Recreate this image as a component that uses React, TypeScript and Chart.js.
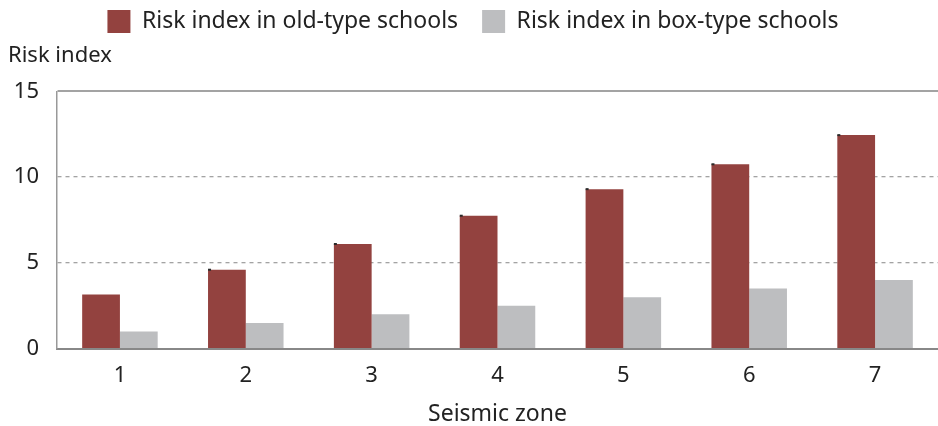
import React, { useEffect, useRef } from 'react';
import { Chart, registerables } from 'chart.js';
Chart.register(...registerables);

const zones = ['1', '2', '3', '4', '5', '6', '7'];
const oldType = [3.15, 4.6, 6.1, 7.75, 9.3, 10.75, 12.45];
const boxType = [1.0, 1.5, 2.0, 2.5, 3.0, 3.5, 4.0];
const seriesNames = ['Risk index in old-type schools', 'Risk index in box-type schools'];
const yMin = 0;
const yMax = 15;
const yStep = 5;
const yTitle = 'Risk index';
const xTitle = 'Seismic zone';

const FONT = '"Noto Sans", Lato, sans-serif';

// tiny dark tick marks visible at the top-left corner of the old-type bars (zones 2-7)
const cornerMarks = {
  id: 'cornerMarks',
  afterDatasetsDraw(chart: any) {
    const meta = chart.getDatasetMeta(0);
    const ctx = chart.ctx;
    ctx.save();
    ctx.fillStyle = '#2a2a2a';
    meta.data.forEach((bar: any, i: number) => {
      if (i === 0) return;
      const left = bar.x - bar.width / 2;
      ctx.fillRect(left, bar.y - 1, 3, 2);
    });
    ctx.restore();
  },
};

export default function App() {
  const ref = useRef<HTMLCanvasElement>(null);
  useEffect(() => {
    document.body.style.margin = '0';
    const canvas = ref.current!;
    const chart = new Chart(canvas, {
      type: 'bar',
      data: {
        labels: zones,
        datasets: [
          { label: seriesNames[0], data: oldType, backgroundColor: '#93423F', barPercentage: 1, categoryPercentage: 0.6 },
          { label: seriesNames[1], data: boxType, backgroundColor: '#BDBEC0', barPercentage: 1, categoryPercentage: 0.6 },
        ],
      },
      options: {
        responsive: false,
        animation: false,
        devicePixelRatio: 1,
        layout: { padding: { left: 8, right: 0, top: -14, bottom: 0 } },
        plugins: {
          legend: {
            position: 'top',
            labels: {
              boxWidth: 23,
              boxHeight: 23,
              padding: 24,
              color: '#222',
              font: { family: FONT, size: 23, lineHeight: 1.2 },
            },
          },
          title: {
            display: true,
            text: yTitle,
            align: 'start',
            weight: 500,
            color: '#222',
            font: { family: FONT, size: 22, weight: 'normal', lineHeight: 1.2 },
            padding: { top: 0, bottom: 22 },
          } as any,
          tooltip: { enabled: false },
        },
        scales: {
          x: {
            grid: { display: false, drawTicks: false },
            border: { display: true, color: '#888', width: 2 },
            ticks: { color: '#222', font: { family: FONT, size: 22, lineHeight: 1.2 }, padding: 14 },
            title: {
              display: true,
              text: xTitle,
              color: '#222',
              font: { family: FONT, size: 23, lineHeight: 1.0 },
              padding: { top: 0, bottom: 0 },
            },
          },
          y: {
            min: yMin,
            max: yMax,
            ticks: { stepSize: yStep, color: '#222', font: { family: FONT, size: 22, lineHeight: 1.2 }, padding: 18 },
            grid: {
              drawTicks: false,
              color: (c: any) => (c.tick && c.tick.value === yMin ? 'rgba(0,0,0,0)' : '#a3a3a3'),
              lineWidth: (c: any) => (c.tick && c.tick.value === yMax ? 2 : 1.3),
            },
            border: {
              display: true,
              color: '#999',
              width: 1.5,
              dash: (c: any) => (c.tick && c.tick.value === yMax ? [] : [4, 4]),
            } as any,
            afterFit: (scale: any) => {
              scale.width = 49;
            },
          },
        },
      },
      plugins: [cornerMarks],
    });
    return () => chart.destroy();
  }, []);
  return <canvas ref={ref} width={938} height={426} style={{ display: 'block' }} />;
}
